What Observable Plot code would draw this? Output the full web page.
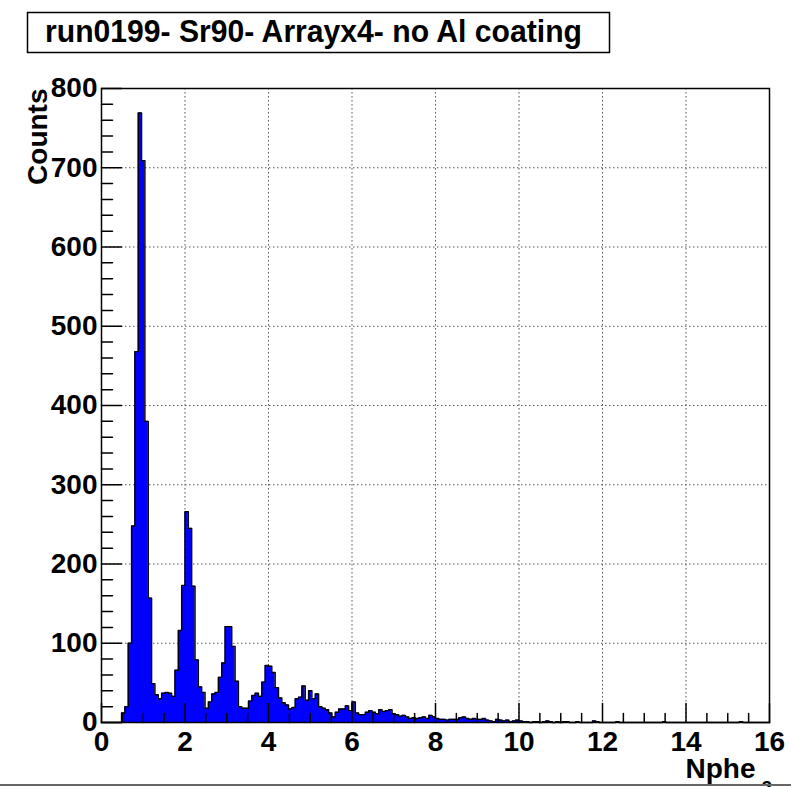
<!DOCTYPE html>
<html><head><meta charset="utf-8">
<script src="https://cdn.jsdelivr.net/npm/d3@7"></script>
<script src="https://cdn.jsdelivr.net/npm/@observablehq/plot@0.6"></script>
<style>
html,body{margin:0;padding:0;background:#fff;overflow:hidden;}
#wrap{position:relative;width:791px;height:787px;overflow:hidden;}
#wrap svg{position:absolute;left:0;top:0;}
</style></head><body><div id="wrap"></div>
<script>
const title = "run0199- Sr90- Arrayx4- no Al coating";
const xLabel = "Nphe";
const xLabelSub = "2";
const yLabel = "Counts";
const binStart = 0;
const binWidth = 0.08;
const xMax = 16;
const yMax = 800;
const counts = [
  0,0,0,0,0,0,
  12,20,100,248,468,769,709,380,157,49,
  35,30,37,38,37,33,66,116,173,266,
  245,172,79,45,38,18,26,36,38,57,
  75,121,121,96,52,20,18,18,27,34,
  37,33,51,72,71,63,44,31,25,22,
  17,19,30,32,46,28,40,30,36,20,
  18,16,12,7,13,17,17,21,15,26,
  12,10,10,13,15,13,11,16,14,15,
  16,11,10,8,9,7,5,6,5,6,
  7,5,9,7,5,4,4,3,4,4,
  4,6,7,5,4,5,4,4,5,3,
  2,1,4,3,2,3,1,2,3,2,
  1,1,0,1,1,0,1,2,1,0,
  1,0,1,1,0,0,1,0,0,0,
  0,2,1,0,0,0,0,0,1,0,
  0,0,0,0,0,0,0,0,0,0,
  0,0,1,0,0,0,0,0,0,0,
  0,0,0,0,0,0,0,0,0,0,
  0,0,0,0,0,1,0,0,0,0,
  0,0,0,0
];
const xMajorTicks = [0,2,4,6,8,10,12,14,16];
const xMinorTicks = [0.5,1,1.5,2.5,3,3.5,4.5,5,5.5,6.5,7,7.5,8.5,9,9.5,10.5,11,11.5,12.5,13,13.5,14.5,15,15.5];
const yMajorTicks = [0,100,200,300,400,500,600,700,800];
const yMinorTicks = d3.range(20, 800, 20).filter(v => v % 100 !== 0);
const xGrid = [2,4,6,8,10,12,14];
const yGrid = [100,200,300,400,500,600,700];

const outline = counts.map((c, i) => ({x: binStart + i * binWidth, y: c}));
outline.push({x: binStart + counts.length * binWidth, y: counts[counts.length - 1]});

const tickShape = {draw(context, l) { context.moveTo(0, 0); context.lineTo(0, -l); }};
const font = "'Liberation Sans', Arial, Helvetica, sans-serif";

const plot = Plot.plot({
  width: 791,
  height: 787,
  marginLeft: 101,
  marginRight: 22,
  marginTop: 88,
  marginBottom: 65,
  style: {fontFamily: font, background: "white", overflow: "visible"},
  x: {domain: [0, xMax]},
  y: {domain: [0, yMax]},
  marks: [
    Plot.ruleX(xGrid, {stroke: "#555", strokeDasharray: "1.5,2.5", strokeWidth: 1}),
    Plot.ruleY(yGrid, {stroke: "#555", strokeDasharray: "1.5,2.5", strokeWidth: 1}),
    Plot.areaY(outline, {x: "x", y: "y", curve: "step-after", fill: "#0000ff"}),
    Plot.line(outline, {x: "x", y: "y", curve: "step-after", stroke: "black", strokeWidth: 1.4}),
    Plot.frame({stroke: "black", strokeWidth: 1.5}),
    Plot.vector(yMajorTicks, {y: d => d, frameAnchor: "left", length: 20, rotate: 90, anchor: "start", shape: tickShape, stroke: "black", strokeWidth: 1.5}),
    Plot.vector(yMinorTicks, {y: d => d, frameAnchor: "left", length: 11, rotate: 90, anchor: "start", shape: tickShape, stroke: "black", strokeWidth: 1.5}),
    Plot.vector(xMajorTicks, {x: d => d, frameAnchor: "bottom", length: 19, rotate: 0, anchor: "start", shape: tickShape, stroke: "black", strokeWidth: 1.5}),
    Plot.vector(xMinorTicks, {x: d => d, frameAnchor: "bottom", length: 9, rotate: 0, anchor: "start", shape: tickShape, stroke: "black", strokeWidth: 1.5}),
    Plot.axisX(xMajorTicks, {tickSize: 0, tickPadding: 9, fontSize: 28, fontWeight: "bold", fill: "black", label: null}),
    Plot.axisY(yMajorTicks, {tickSize: 0, tickPadding: 4, fontSize: 28, fontWeight: "bold", fill: "black", label: null}),
    Plot.text([yLabel], {text: d => d, frameAnchor: "top-left", rotate: -90, textAnchor: "end", lineAnchor: "middle", dx: -63, dy: 0, fontSize: 28, fontWeight: "bold", fill: "black"}),
    Plot.text([xLabel], {text: d => d, frameAnchor: "bottom-right", textAnchor: "end", lineAnchor: "middle", dx: -14, dy: 47, fontSize: 28, fontWeight: "bold", fill: "black"}),
    Plot.text([xLabelSub], {text: d => d, frameAnchor: "bottom-right", textAnchor: "start", lineAnchor: "top", dx: -8, dy: 58, fontSize: 19, fontWeight: "bold", fill: "black"})
  ]
});
const wrap = document.getElementById("wrap");
wrap.appendChild(plot);

// title box and canvas bottom edge overlay
const ov = d3.select(wrap).append("svg")
  .attr("width", 791).attr("height", 787)
  .style("pointer-events", "none");
ov.append("rect").attr("x", 27.5).attr("y", 12.5).attr("width", 582).attr("height", 40)
  .attr("fill", "white").attr("stroke", "black").attr("stroke-width", 1.5);
ov.append("text").attr("x", 313.5).attr("y", 42).attr("text-anchor", "middle")
  .attr("font-family", font).attr("font-weight", "bold").attr("font-size", 31)
  .attr("textLength", 537).attr("lengthAdjust", "spacingAndGlyphs")
  .text(title);
ov.append("line").attr("x1", 0).attr("x2", 791).attr("y1", 785).attr("y2", 785)
  .attr("stroke", "#666").attr("stroke-width", 2);
</script></body></html>
